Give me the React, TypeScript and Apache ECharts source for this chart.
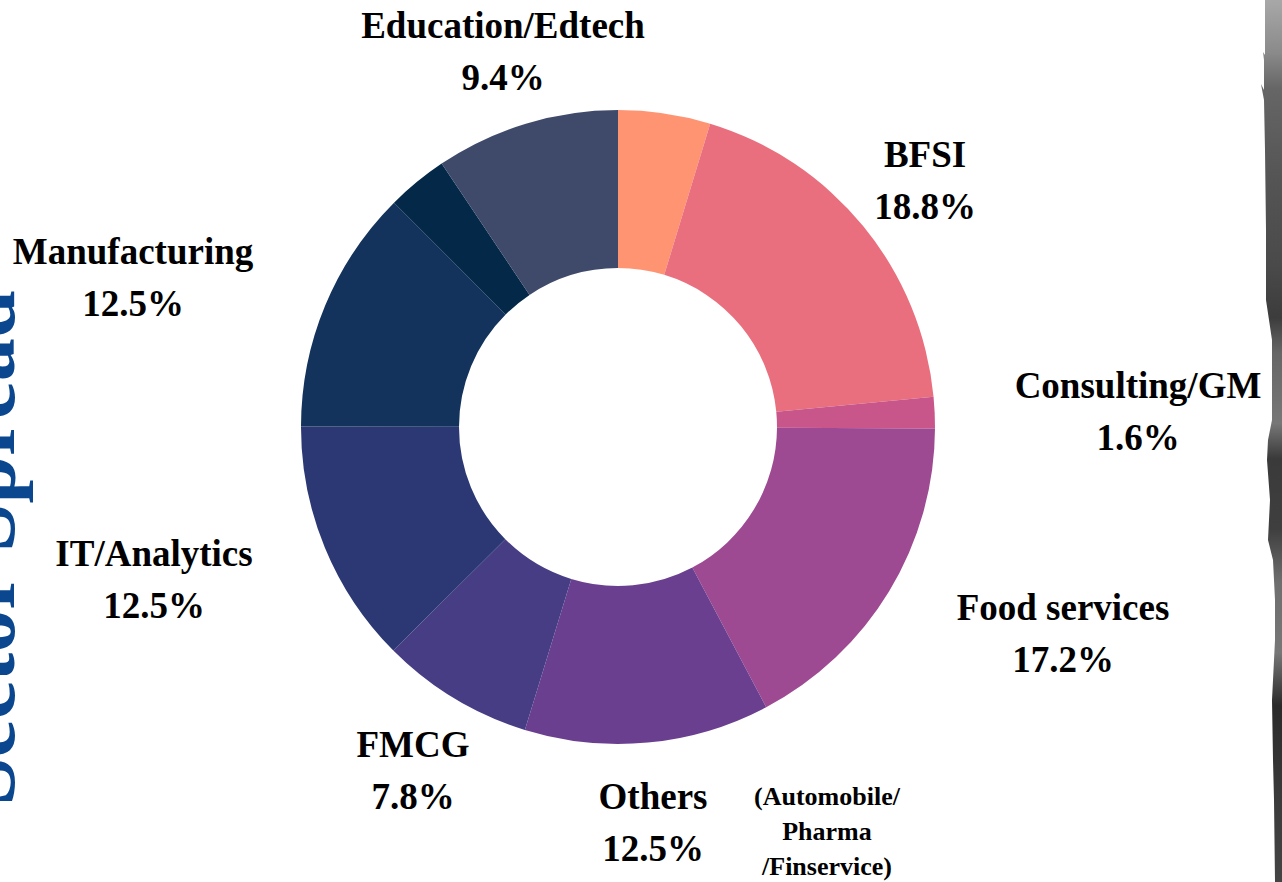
import React, { useEffect, useRef } from "react";
import * as echarts from "echarts";

// Sector shares (%), clockwise from 12 o'clock
const sectorNames = [
  "",
  "BFSI",
  "Consulting/GM",
  "Food services",
  "Others",
  "FMCG",
  "IT/Analytics",
  "Manufacturing",
  "",
  "Education/Edtech",
];
const sectorValues = [4.7, 18.8, 1.6, 17.2, 12.5, 7.8, 12.5, 12.5, 3.1, 9.4];
const sectorColors = [
  "#FF9473",
  "#EA6F7E",
  "#C9568B",
  "#9E4A92",
  "#6B3F8F",
  "#463D84",
  "#2B3873",
  "#13335C",
  "#042848",
  "#3F4A6B",
];
// label block centres (layout only)
const labelPositions: (number[] | null)[] = [
  null,
  [925, 180],
  [1138, 411],
  [1063, 633],
  [653, 822],
  [413, 770],
  [154, 579],
  [133, 277],
  null,
  [503, 51],
];
const othersNote = ["(Automobile/", "Pharma", "/Finservice)"];
const titleText = "Sector Spread";

const FONT = '"Liberation Serif", "Times New Roman", serif';

export default function App() {
  const ref = useRef<HTMLDivElement>(null);
  useEffect(() => {
    if (!ref.current) return;
    const chart = echarts.init(ref.current, undefined, { renderer: "svg" });
    const data = sectorValues.map((v, i) => ({
      name: sectorNames[i],
      value: v,
      itemStyle: { color: sectorColors[i] },
      label: { show: labelPositions[i] !== null },
    }));
    const brushPts = [
      [1265, 0], [1282, 0], [1282, 882], [1275, 882], [1274, 800], [1273, 760],
      [1272, 700], [1275, 640], [1275, 600], [1273, 560], [1268, 540], [1270, 500],
      [1267, 460], [1268, 440], [1272, 420], [1272, 340], [1269, 320], [1266, 300],
      [1266, 230], [1265, 150], [1264, 100], [1261, 84], [1264, 90], [1264, 60],
      [1263, 52], [1265, 55], [1265, 0],
    ];
    chart.setOption({
      animation: false,
      backgroundColor: "#ffffff",
      series: [
        {
          type: "pie",
          center: [618, 427],
          radius: [159, 317],
          startAngle: 90,
          clockwise: true,
          avoidLabelOverlap: false,
          itemStyle: { borderWidth: 0 },
          emphasis: { disabled: true },
          labelLine: { show: false },
          label: {
            position: "outside",
            formatter: (p: any) => `{n|${p.name}}\n{p|${Number(p.value).toFixed(1)}%}`,
            rich: {
              n: { fontFamily: FONT, fontWeight: "bold", fontSize: 37, lineHeight: 52, color: "#000" },
              p: { fontFamily: FONT, fontWeight: "bold", fontSize: 37, lineHeight: 52, color: "#000" },
            },
          },
          labelLayout: (params: any) => {
            const pos = labelPositions[params.dataIndex];
            if (!pos) return {};
            return { x: pos[0], y: pos[1], align: "center", verticalAlign: "middle" };
          },
          data,
        },
      ],
      graphic: [
        {
          type: "text",
          x: -15,
          y: 548,
          rotation: Math.PI / 2,
          style: {
            text: titleText,
            fontFamily: FONT,
            fontWeight: "bold",
            fontSize: 86,
            fill: "#0B478F",
            align: "center",
            verticalAlign: "middle",
          },
        },
        {
          type: "text",
          x: 827,
          y: 831,
          style: {
            text: othersNote.join("\n"),
            fontFamily: FONT,
            fontWeight: "bold",
            fontSize: 26,
            lineHeight: 35,
            fill: "#000",
            align: "center",
            verticalAlign: "middle",
          },
        },
        {
          type: "polygon",
          shape: { points: brushPts },
          style: {
            fill: new echarts.graphic.LinearGradient(0, 0, 0, 1, [
              { offset: 0, color: "#a8a8a8" },
              { offset: 0.06, color: "#8a8a8a" },
              { offset: 0.1, color: "#666666" },
              { offset: 0.2, color: "#555555" },
              { offset: 0.3, color: "#4a4a4a" },
              { offset: 0.36, color: "#3c3c3c" },
              { offset: 0.4, color: "#666666" },
              { offset: 0.48, color: "#777777" },
              { offset: 0.52, color: "#3a3a3a" },
              { offset: 0.6, color: "#3f3f3f" },
              { offset: 0.66, color: "#6e6e6e" },
              { offset: 0.74, color: "#777777" },
              { offset: 0.8, color: "#2a2a2a" },
              { offset: 0.9, color: "#3a3a3a" },
              { offset: 1, color: "#444444" },
            ]),
          },
        },
      ],
    });
    return () => chart.dispose();
  }, []);
  return (
    <div
      ref={ref}
      style={{ position: "absolute", left: 0, top: 0, width: 1282, height: 882 }}
    />
  );
}
